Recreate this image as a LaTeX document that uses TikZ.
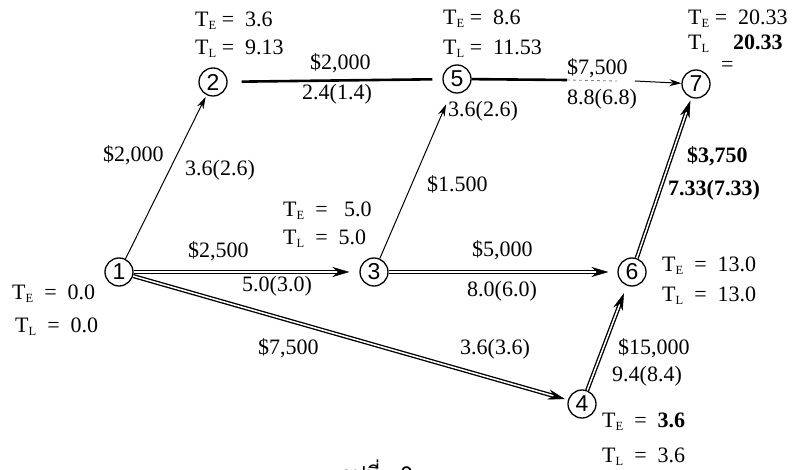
\documentclass[tikz,border=0pt]{standalone}
\usepackage{fontspec}
\setmainfont{Liberation Serif}
\newfontfamily\numfont{Liberation Sans}
\newfontfamily\thaifont[Script=Thai]{Loma}
\usetikzlibrary{arrows.meta}
\newcommand{\TEx}{T\raisebox{-3pt}{\fontsize{12.5}{12.5}\selectfont E}}
\newcommand{\TLx}{T\raisebox{-3pt}{\fontsize{12.5}{12.5}\selectfont L}}
% double-line activity: #1 from, #2 to, #3 gap before the target node
\newcommand{\dblarr}[3]{%
  \draw[dblline,shorten >=#3+9pt] (#1) -- (#2);
  \draw[dbltip,shorten >=#3] (#1) -- (#2);}
\begin{document}
\begin{tikzpicture}[x=1pt,y=-1pt,
  font=\fontsize{22}{26}\selectfont,
  evt/.style={circle,draw,line width=1.3pt,minimum size=28pt,inner sep=0pt,
              font=\numfont\fontsize{23}{23}\selectfont},
  lbl/.style={anchor=base west,inner sep=0pt},
  thinarr/.style={line width=1pt,-{Stealth[length=12pt,width=7pt]}},
  heavy/.style={line width=2.6pt},
  dblline/.style={double,double distance=1.5pt,line width=1.35pt},
  dbltip/.style={white,line width=0.4pt,
              -{Stealth[length=17pt,width=10pt,color=black]}}
]
\useasboundingbox (0,0) rectangle (793,470);

% events
\node[evt] (n1) at (119,272) {1};
\node[evt] (n2) at (213,82)  {2};
\node[evt] (n3) at (374,272) {3};
\node[evt] (n4) at (582,404) {4};
\node[evt] (n5) at (457,79)  {5};
\node[evt] (n6) at (632,272) {6};
\node[evt] (n7) at (696,84)  {7};

% activities
\draw[thinarr,shorten >=2pt] (n1) -- (n2);
\draw[heavy,shorten <=14pt,shorten >=10pt] (n2) -- (n5);
\coordinate (c57a) at (567,80);
\coordinate (c57b) at (617,81);
\coordinate (c57c) at (635,81);
\draw[heavy] (n5) -- (c57a);
\draw[line width=0.8pt,dashed,gray] (c57a) -- (c57b);
\draw[thinarr] (c57c) -- (n7);
\draw[thinarr,shorten >=13pt] (n3) -- (n5);
\dblarr{n1}{n3}{10pt}
\dblarr{n3}{n6}{9pt}
\dblarr{n1}{n4}{3pt}
\dblarr{n4}{n6}{8pt}
\dblarr{n6}{n7}{3pt}

% event times
\node[lbl] (te2) at (195,27) {\TEx\ = \ 3.6};
\node[lbl] (tl2) at (195,55) {\TLx\ = \ 9.13};
\node[lbl] (te5) at (443,25) {\TEx\ = \ 8.6};
\node[lbl] (tl5) at (443,55) {\TLx\ = \ 11.53};
\node[lbl] (te7) at (688,25) {\TEx\ = \ 20.33};
\node[lbl] (tl7) at (688,50) {\TLx};
\node[lbl] (eq7) at (721,72) {=};
\node[lbl] (tl7v) at (733,50) {\bfseries 20.33};
\node[lbl] (te3) at (283,217) {\TEx\ \ = \ \ 5.0};
\node[lbl] (tl3) at (283,245) {\TLx\ \ = \ 5.0};
\node[lbl] (te6) at (662,272) {\TEx\ \ = \ 13.0};
\node[lbl] (tl6) at (662,302) {\TLx\ \ = \ 13.0};
\node[lbl] (te1) at (12,300) {\TEx\ \ = \ 0.0};
\node[lbl] (tl1) at (15,333) {\TLx\ \ = \ 0.0};
\node[lbl] (te4) at (602,428) {\TEx\ \ = \ \textbf{3.6}};
\node[lbl] (tl4) at (602,462) {\TLx\ \ = \ 3.6};

% activity costs and times
\node[lbl] (k25) at (310,70) {\$2,000};
\node[lbl] (d25) at (302,100) {2.4(1.4)};
\node[lbl] (k57) at (567,75) {\$7,500};
\node[lbl] (d57) at (567,105) {8.8(6.8)};
\node[lbl] (k12) at (103,162) {\$2,000};
\node[lbl] (d12) at (185,176) {3.6(2.6)};
\node[lbl] (d35) at (448,117) {3.6(2.6)};
\node[lbl] (k35) at (427,192) {\$1.500};
\node[lbl] (k67) at (687,163) {\bfseries \$3,750};
\node[lbl] (d67) at (668,196) {\bfseries 7.33(7.33)};
\node[lbl] (k13) at (188,258) {\$2,500};
\node[lbl] (d13) at (242,292) {5.0(3.0)};
\node[lbl] (k36) at (472,257) {\$5,000};
\node[lbl] (d36) at (467,297) {8.0(6.0)};
\node[lbl] (k14) at (258,355) {\$7,500};
\node[lbl] (d14) at (460,355) {3.6(3.6)};
\node[lbl] (k46) at (618,355) {\$15,000};
\node[lbl] (d46) at (612,382) {9.4(8.4)};

% caption (cut off at the lower edge, as in the reference)
\node[lbl,font=\thaifont\fontsize{22}{26}\selectfont] (cap) at (340,482) {รูปที่\hspace{0.9em}9};
\end{tikzpicture}
\end{document}
